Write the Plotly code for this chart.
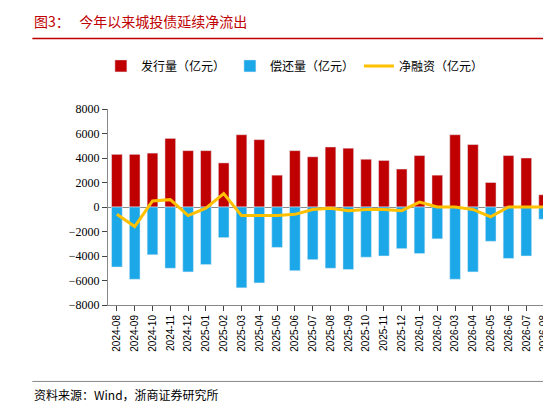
import plotly.graph_objects as go

months = ["2024-08","2024-09","2024-10","2024-11","2024-12","2025-01","2025-02","2025-03","2025-04","2025-05","2025-06","2025-07","2025-08","2025-09","2025-10","2025-11","2025-12","2026-01","2026-02","2026-03","2026-04","2026-05","2026-06","2026-07","2026-08"]
issue = [4300,4300,4400,5600,4600,4600,3600,5900,5500,2600,4600,4100,4900,4800,3900,3800,3100,4200,2600,5900,5100,2000,4200,4000,1000]
repay = [-4900,-5900,-3900,-5000,-5300,-4700,-2500,-6600,-6200,-3300,-5200,-4300,-5000,-5100,-4100,-4000,-3400,-3800,-2600,-5900,-5300,-2800,-4200,-4000,-1000]
net = [i + r for i, r in zip(issue, repay)]

fig = go.Figure()
fig.add_bar(x=months, y=issue, name="发行量（亿元）", marker_color="#C00000")
fig.add_bar(x=months, y=repay, name="偿还量（亿元）", marker_color="#1CA8E8")
fig.add_scatter(x=months, y=net, name="净融资（亿元）", mode="lines", line=dict(color="#FFC000", width=3))

fig.update_layout(
    width=551, height=402, barmode="relative", bargap=0.4,
    plot_bgcolor="white", paper_bgcolor="white",
    font=dict(family="Noto Sans CJK SC", size=11, color="black"),
    margin=dict(l=100, r=6, t=101, b=105),
    legend=dict(orientation="h", x=0.42, xanchor="center", y=1.22, yanchor="middle", font=dict(size=12)),
    showlegend=True,
)
fig.update_xaxes(type="category", tickangle=-90, showline=True, linecolor="#888", ticks="outside",
                 tickfont=dict(size=10, family="Liberation Sans"))
fig.update_yaxes(range=[-8000, 8000], dtick=2000, showgrid=False, showline=True, linecolor="#888", ticks="outside",
                 zeroline=True, zerolinecolor="#888", zerolinewidth=1, tickfont=dict(family="Liberation Serif", size=12))

fig.add_annotation(text="图3：   今年以来城投债延续净流出", xref="paper", yref="paper", x=-0.17, xanchor="left", y=1.45, yanchor="middle", showarrow=False, font=dict(color="#C00000", size=14, family="Noto Sans CJK SC"))
fig.add_shape(type="line", xref="paper", yref="paper", x0=-0.17, x1=1.01, y0=1.36, y1=1.36, line=dict(color="#C00000", width=1.5))
fig.add_shape(type="line", xref="paper", yref="paper", x0=-0.17, x1=1.01, y0=-0.39, y1=-0.39, line=dict(color="#888888", width=1))
fig.add_annotation(text="资料来源：Wind，浙商证券研究所", xref="paper", yref="paper", x=-0.17, xanchor="left", y=-0.455, yanchor="middle", showarrow=False, font=dict(size=12))

fig.write_html("out.html")
